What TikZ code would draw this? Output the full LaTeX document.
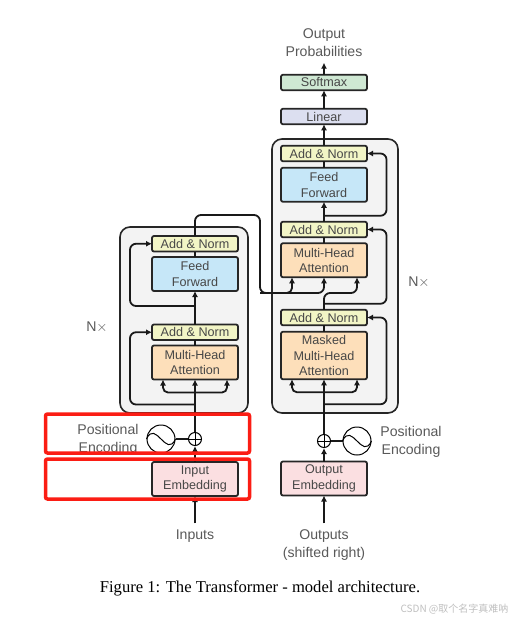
\documentclass[tikz,border=0pt]{standalone}
\usepackage{fontspec}
\setmainfont{Liberation Sans}
\newfontfamily\capfont{Liberation Serif}
\newfontfamily\cjkfont{Noto Sans CJK SC}
\usepackage{xcolor}
\usetikzlibrary{positioning,arrows.meta}

\definecolor{normfill}{HTML}{F2F5C6}
\definecolor{feedfill}{HTML}{C6E7F8}
\definecolor{attnfill}{HTML}{FDDFBA}
\definecolor{embedfill}{HTML}{FBDFE1}
\definecolor{softfill}{HTML}{CFE8D3}
\definecolor{linearfill}{HTML}{DCDFF0}
\definecolor{panelfill}{HTML}{F3F3F3}
\definecolor{markred}{HTML}{FB1D14}

\begin{document}
\begin{tikzpicture}[
    x=1pt,
    y=-1pt,
    box/.style={
        draw=black!85,
        line width=1.8pt,
        rounded corners=2pt,
        minimum width=86pt,
        inner sep=0pt,
        outer sep=0pt,
        align=center,
        text=black!72,
        font=\fontsize{12.6}{15.5}\selectfont
    },
    thinbox/.style={box, minimum height=15.5pt},
    midbox/.style={box, minimum height=34pt},
    panel/.style={
        draw=black!85,
        line width=1.6pt,
        rounded corners=10pt,
        fill=panelfill,
        inner sep=0pt
    },
    caption/.style={
        align=center,
        inner sep=0pt,
        text=black!65,
        font=\fontsize{14.1}{18}\selectfont
    },
    arrow/.style={-{Latex[length=6pt,width=6pt]}, line width=1.8pt, black!90},
    fork/.style={{Latex[length=6pt,width=6pt]}-{Latex[length=6pt,width=6pt]}, line width=1.8pt, black!90, rounded corners=5pt},
    plain/.style={line width=1.8pt, black!90},
    route/.style={arrow, rounded corners=6pt},
    marker/.style={draw=markred, line width=3.5pt, rounded corners=2pt}
]

\useasboundingbox (0,0) rectangle (511,621);

% the two panels go first, the boxes sit on them
\node[panel, minimum width=126pt, minimum height=274pt] (decpanel) at (335,276) {};
\node[panel, minimum width=128pt, minimum height=186pt] (encpanel) at (184,320) {};

% decoder column
\node[midbox, fill=embedfill] (outembed) at (324,478.5) {Output\\Embedding};
\node[box, minimum height=47.5pt, fill=attnfill] (masked) at (324,355.5) {Masked\\Multi-Head\\Attention};
\node[thinbox, fill=normfill, above=6.5pt of masked] (normc) {Add \& Norm};
\node[midbox, fill=attnfill, above=32.5pt of normc] (cross) {Multi-Head\\Attention};
\node[thinbox, fill=normfill, above=6pt of cross] (normb) {Add \& Norm};
\node[midbox, fill=feedfill, above=20pt of normb] (decfeed) {Feed\\Forward};
\node[thinbox, fill=normfill, above=6.5pt of decfeed] (norma) {Add \& Norm};
\node[thinbox, fill=linearfill, above=21.5pt of norma] (linear) {Linear};
\node[thinbox, fill=softfill, above=18.5pt of linear] (softmax) {Softmax};

% encoder column
\node[midbox, fill=embedfill] (inembed) at (195,479) {Input\\Embedding};
\node[midbox, fill=attnfill] (encattn) at (195,362.5) {Multi-Head\\Attention};
\node[thinbox, fill=normfill, above=5.5pt of encattn] (encnormb) {Add \& Norm};
\node[midbox, fill=feedfill, above=33.5pt of encnormb] (encfeed) {Feed\\Forward};
\node[thinbox, fill=normfill, above=5.5pt of encfeed] (encnorma) {Add \& Norm};

% positional encoding
\node[draw, circle, line width=1pt, minimum size=13pt, inner sep=0pt] (plusin) at (195,439) {};
\node[draw, circle, line width=1pt, minimum size=13pt, inner sep=0pt] (plusout) at (324,441) {};
\node[draw, circle, line width=1pt, minimum size=28pt, inner sep=0pt] (sinein) at (161,439) {};
\node[draw, circle, line width=1pt, minimum size=28pt, inner sep=0pt] (sineout) at (357,441) {};

% labels
\node[caption] (outprob) at (324,42.5) {Output\\Probabilities};
\node[caption] (nxdec) at (419,282) {N$\times$};
\node[caption] (nxenc) at (97,327) {N$\times$};
\node[caption] (posin) at (108,440) {Positional\\Encoding};
\node[caption] (posout) at (411,442) {Positional\\Encoding};
\node[caption] (inputs) at (195,536) {Inputs};
\node[caption] (outputs) at (324,545) {Outputs\\(shifted right)};

\coordinate (hoptop) at (260,215);
\coordinate (hopbot) at (260,293);
\coordinate (mergeup) at (357,293);

% decoder stack
\draw[arrow] ([yshift=6pt]outputs.north) -- (outembed);
\draw[arrow] (outembed) -- (plusout);
\draw[arrow] (plusout) -- (masked);
\draw[plain] (masked) -- (normc);
\draw[plain] (cross) -- (normb);
\draw[arrow] (normb) -- (decfeed);
\draw[plain] (decfeed) -- (norma);
\draw[arrow] (norma) -- (linear);
\draw[arrow] (linear) -- (softmax);
\draw[arrow] (softmax) -- ([yshift=-6pt]outprob.south);
\draw[route] (normc.north) |- (mergeup) -- ([xshift=33pt]cross.south);
\draw[fork] ([xshift=-32pt]masked.south) |- ([yshift=-13pt]masked.south) -| ([xshift=33pt]masked.south);

% decoder residuals
\draw[route] ([yshift=-25pt]masked.south) -| ([xshift=19.5pt]normc.east) -- (normc.east);
\draw[route] ([yshift=6pt]normc.north) -| ([xshift=19.5pt]normb.east) -- (normb.east);
\draw[route] ([yshift=6pt]normb.north) -| ([xshift=19.5pt]norma.east) -- (norma.east);

% encoder stack
\draw[arrow] ([yshift=6pt]inputs.north) -- (inembed);
\draw[arrow] (inembed) -- (plusin);
\draw[arrow] (plusin) -- (encattn);
\draw[plain] (encattn) -- (encnormb);
\draw[arrow] (encnormb) -- (encfeed);
\draw[plain] (encfeed) -- (encnorma);
\draw[fork] ([xshift=-32pt]encattn.south) |- ([yshift=-13pt]encattn.south) -| ([xshift=32pt]encattn.south);
\draw[route] ([yshift=-25pt]encattn.south) -| ([xshift=-22pt]encnormb.west) -- (encnormb.west);
\draw[route] ([yshift=-15pt]encfeed.south) -| ([xshift=-22pt]encnorma.west) -- (encnorma.west);

% encoder output into the decoder
\draw[route] (encnorma.north) |- (hoptop) -- (hopbot) -| (cross.south);
\draw[arrow, rounded corners=5pt] (hopbot) -| ([xshift=-32pt]cross.south);

% plus signs and sine waves
\draw[line width=1pt] (plusin.west) -- (plusin.east) (plusin.north) -- (plusin.south);
\draw[line width=1pt] (plusout.west) -- (plusout.east) (plusout.north) -- (plusout.south);
\draw[plain] (sinein) -- (plusin);
\draw[plain] (sineout) -- (plusout);
\draw[line width=1pt] (sinein.west) .. controls ([xshift=9pt,yshift=20pt]sinein.west) and ([xshift=-9pt,yshift=-20pt]sinein.east) .. (sinein.east);
\draw[line width=1pt] (sineout.west) .. controls ([xshift=9pt,yshift=20pt]sineout.west) and ([xshift=-9pt,yshift=-20pt]sineout.east) .. (sineout.east);

% red frames
\node[marker, minimum width=204pt, minimum height=39pt] (markpos) at (147.5,433.5) {};
\node[marker, minimum width=204pt, minimum height=40pt] (markemb) at (147.5,479) {};

\node[inner sep=0pt, font=\capfont\fontsize{16.6}{19}\selectfont] (figcap) at (260,588.5) {Figure 1: The Transformer - model architecture.};
\node[inner sep=0pt, text=black!25, font=\cjkfont\fontsize{10}{12}\selectfont] (mark) at (454.5,609) {CSDN @取个名字真难呐};
\end{tikzpicture}
\end{document}
